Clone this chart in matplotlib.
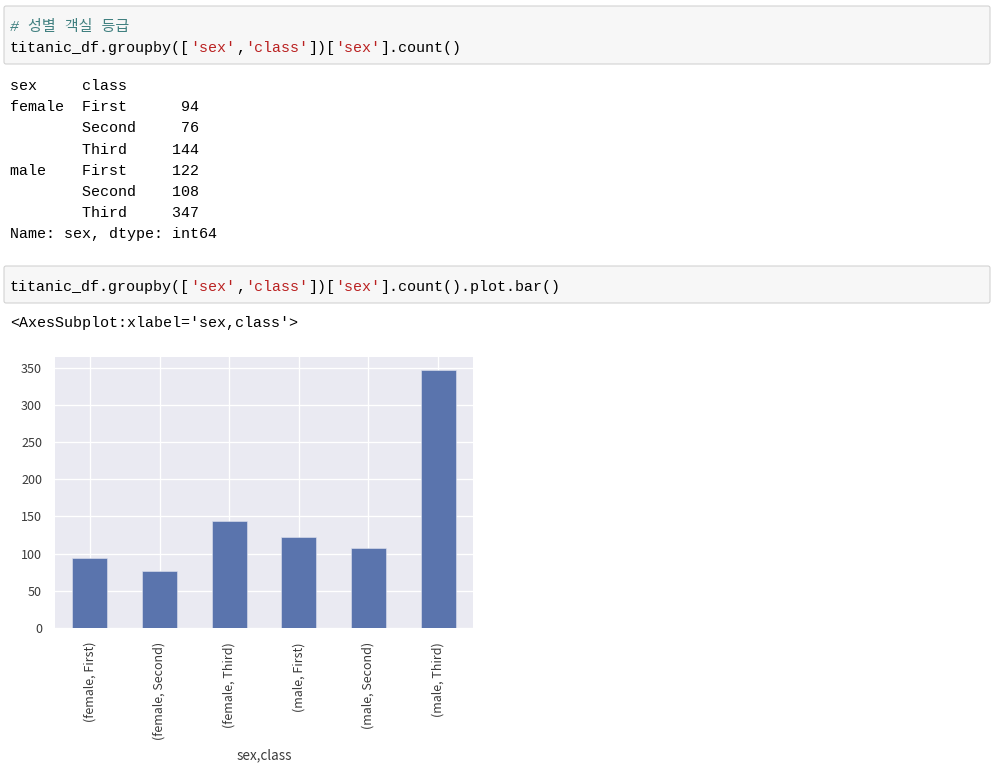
import matplotlib
matplotlib.use('Agg')
from matplotlib import pyplot as plt
from matplotlib.patches import FancyBboxPatch

# data : titanic_df.groupby(['sex','class'])['sex'].count()
sexes = ['female', 'female', 'female', 'male', 'male', 'male']
classes = ['First', 'Second', 'Third', 'First', 'Second', 'Third']
counts = [94, 76, 144, 122, 108, 347]
yticks = [0, 50, 100, 150, 200, 250, 300, 350]

W, H = 996, 771
fig = plt.figure(figsize=(W / 72, H / 72), dpi=72)
fig.patch.set_facecolor('white')

# page layer in pixel coordinates (notebook cells)
bg = fig.add_axes([0, 0, 1, 1], zorder=0)
bg.set_xlim(0, W)
bg.set_ylim(H, 0)
bg.axis('off')

mono = ['Liberation Mono', 'Noto Sans CJK KR']
fs = 15.05
cw = fs * 0.6   # width of one monospace character in px
x0 = 10

def cell(y0, y1):
    box = FancyBboxPatch((4, y0), 986, y1 - y0, boxstyle='round,pad=0,rounding_size=2',
                         fc='#f7f7f7', ec='#cfcfcf', lw=1)
    bg.add_patch(box)

def code_line(y, parts):
    col = 0
    for txt, color, style in parts:
        bg.text(x0 + col * cw, y, txt, color=color, fontsize=fs, family=mono,
                style=style, va='baseline', ha='left')
        col += len(txt)

red = '#ba2121'
blk = '#000000'
n = 'normal'

# -1- first cell
cell(6, 64)
bg.text(x0, 31, '# 성별 객실 등급', color='#408080', fontsize=fs, family=mono,
        style='italic', va='baseline')
code_line(52, [('titanic_df.groupby([', blk, n), ("'sex'", red, n), (',', blk, n),
               ("'class'", red, n), ('])[', blk, n), ("'sex'", red, n),
               ('].count()', blk, n)])

# output of the groupby
lines = ['sex     class']
prev = None
for s, c, v in zip(sexes, classes, counts):
    lab = s if s != prev else ''
    prev = s
    lines.append('%-8s%-8s%5d' % (lab, c, v))
lines.append('Name: sex, dtype: int64')
for i, l in enumerate(lines):
    bg.text(x0, 90 + i * 21.2, l, fontsize=fs, family=mono, va='baseline', color=blk)

# -2- second cell
cell(266, 303)
code_line(291, [('titanic_df.groupby([', blk, n), ("'sex'", red, n), (',', blk, n),
                ("'class'", red, n), ('])[', blk, n), ("'sex'", red, n),
                ('].count().plot.bar()', blk, n)])
bg.text(x0, 327, "<AxesSubplot:xlabel='sex,class'>", fontsize=fs, family=mono,
        va='baseline', color=blk)

# -3- the bar chart (seaborn darkgrid look)
L, R, T, B = 55, 473, 357, 628
ax = fig.add_axes([L / W, 1 - B / H, (R - L) / W, (B - T) / H], zorder=1)
ax.set_facecolor('#eaeaf2')
xlabels = ['(%s, %s)' % (s, c) for s, c in zip(sexes, classes)]
xpos = range(len(counts))
ax.bar(xpos, counts, width=0.5, color='#5a74ad', edgecolor='#dde1ee', linewidth=0.6, zorder=2)
ax.set_xlim(-0.5, len(counts) - 0.5)
ax.set_ylim(0, max(counts) * 1.05)
ax.set_yticks(yticks)
ax.set_xticks(list(xpos))
tf = 'Noto Sans CJK KR'
ax.set_xticklabels(xlabels, rotation=90, fontsize=12.5, family=tf, color='#3a3a3a')
ax.set_yticklabels([str(t) for t in yticks], fontsize=12.5, family=tf, color='#3a3a3a')
ax.tick_params(axis='x', length=0, pad=14)
ax.tick_params(axis='y', length=0, pad=13)
ax.grid(True, color='white', lw=1.3, zorder=0)
ax.set_axisbelow(True)
for sp in ax.spines.values():
    sp.set_visible(False)
ax.set_xlabel('sex,class', fontsize=13.5, family=tf, color='#3a3a3a', labelpad=8)

fig.savefig('out.png', dpi=72, facecolor='white')
